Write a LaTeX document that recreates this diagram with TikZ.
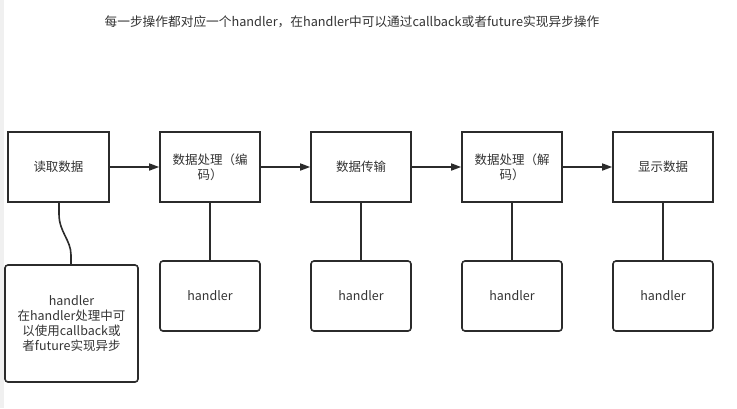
\documentclass[tikz,border=0pt]{standalone}
\usepackage{fontspec}
\setmainfont{Noto Sans CJK SC}
\usetikzlibrary{arrows.meta}
\definecolor{ln}{HTML}{2B2B2B}
\definecolor{tx}{HTML}{333333}
\definecolor{strip}{HTML}{F0F0F0}
\begin{document}
\begin{tikzpicture}[x=1pt,y=-1pt,
  stepbox/.style={draw=ln,line width=1.6pt,minimum width=100pt,minimum height=70pt,inner sep=0pt,align=center,text=tx,font=\fontsize{12.5}{15}\selectfont},
  hbox/.style={stepbox,rounded corners=3pt},
  conn/.style={draw=ln,line width=1.6pt},
  arr/.style={conn,-{Triangle[length=10pt,width=7pt]}}]
\useasboundingbox (0,0) rectangle (737,408);
\fill[strip] (0,0) rectangle (4,408);
\node[text=tx,font=\fontsize{12.7}{15}\selectfont] (title) at (352,22) {每一步操作都对应一个handler，在handler中可以通过callback或者future实现异步操作};
\node[stepbox,minimum width=101pt] (s1) at (58.5,167) {读取数据};
\node[stepbox] (s2) at (210,167) {数据处理（编\\码）};
\node[stepbox] (s3) at (361,167) {数据传输};
\node[stepbox] (s4) at (512,167) {数据处理（解\\码）};
\node[stepbox] (s5) at (663,167) {显示数据};
\node[hbox,minimum width=133pt,minimum height=117pt] (h1) at (71.5,323.5) {handler\\在handler处理中可\\以使用callback或\\者future实现异步};
\node[hbox] (h2) at (210,296) {handler};
\node[hbox] (h3) at (361,296) {handler};
\node[hbox] (h4) at (512,296) {handler};
\node[hbox] (h5) at (663,296) {handler};
\draw[arr] (s1) -- (s2);
\draw[arr] (s2) -- (s3);
\draw[arr] (s3) -- (s4);
\draw[arr] (s4) -- (s5);
\draw[conn] (s1.south -| 59,0) -- (59,214) .. controls (59,232) and (71,240) .. (71,255) -- (h1.north -| 71,0);
\draw[conn] (s2) -- (h2);
\draw[conn] (s3) -- (h3);
\draw[conn] (s4) -- (h4);
\draw[conn] (s5) -- (h5);
\end{tikzpicture}
\end{document}
